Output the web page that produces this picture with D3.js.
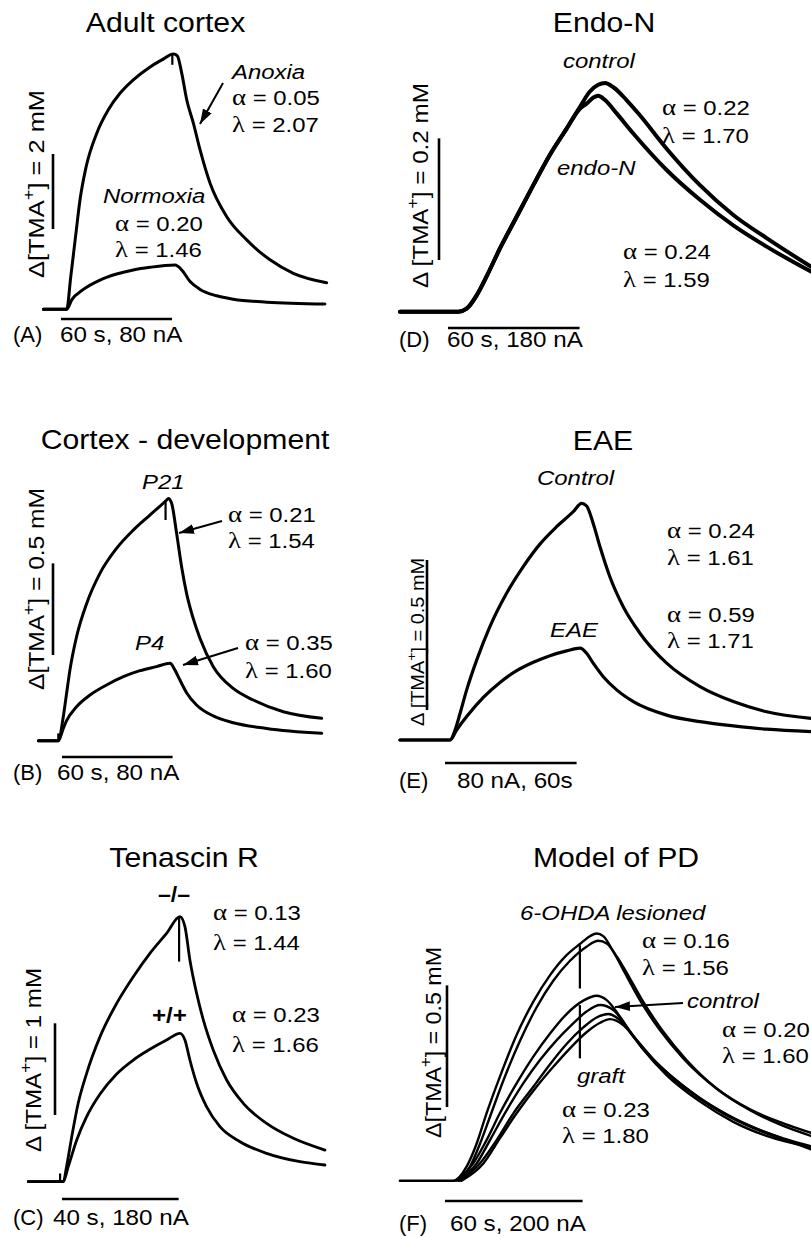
<!DOCTYPE html>
<html><head><meta charset="utf-8">
<script src="https://cdn.jsdelivr.net/npm/d3@7"></script>
<style>
body{margin:0;background:#fff}
svg{display:block}
text{font-family:"Liberation Sans",Arial,sans-serif;fill:#000}
</style></head><body><svg id="c" width="811" height="1237"></svg>
<script>
// ===== DATA: [time (s from release onset), ΔTMA+ (mM)] =====
// Panel A – Adult cortex
const A_anoxia = [[-12.6,0],[0,0],[2.2,0.87],[5.0,2.03],[7.2,2.92],[10.5,3.80],[16.2,4.69],[22.5,5.32],[28.8,5.76],[36.0,6.12],[44.1,6.43],[51.4,6.65],[57.7,6.81],[59.8,6.76],[62.2,6.29],[64.9,5.58],[68.5,4.96],[72.1,4.25],[77.5,3.36],[86.5,2.47],[97.3,1.85],[109.9,1.32],[122.5,0.96],[140.5,0.71]];
const A_normoxia = [[-12.6,0],[0,0],[2.7,0.25],[9.0,0.53],[18.0,0.78],[27.0,0.94],[36.0,1.05],[45.0,1.12],[58.6,1.18],[62.2,1.05],[66.7,0.74],[72.1,0.53],[81.1,0.36],[90.1,0.27],[108.1,0.19],[139.6,0.14]];
const A_artifacts = [[57.1,6.81,6.52]];
// Panel B – Cortex development
const B_P21 = [[-10.8,0],[0,0],[2.7,0.131],[4.5,0.258],[6.3,0.385],[9.9,0.567],[15.4,0.749],[22.6,0.913],[31.6,1.049],[40.7,1.149],[49.7,1.231],[58.8,1.313],[59.7,1.322],[61.5,1.295],[64.2,1.131],[66.9,0.949],[69.6,0.804],[73.2,0.667],[76.9,0.558],[84.1,0.404],[94.9,0.285],[105.8,0.222],[122.1,0.158],[142.9,0.122]];
const B_P4 = [[-10.8,0],[0,0],[2.7,0.067],[4.5,0.109],[9.9,0.185],[17.2,0.249],[26.2,0.304],[35.3,0.349],[44.3,0.382],[53.3,0.404],[60.6,0.422],[63.3,0.385],[66.0,0.331],[69.6,0.262],[75.0,0.195],[84.1,0.135],[94.9,0.098],[113.0,0.067],[142.9,0.040]];
const B_artifacts = [[58.2,1.313,1.204],[0,0.04,-0.005]];
// Panel C – Tenascin R
const C_ko = [[-12,0],[0,0],[1.1,0.164],[2.9,0.491],[5.1,0.855],[8.0,1.182],[12.6,1.582],[18.3,1.945],[24.0,2.236],[29.7,2.491],[35.4,2.709],[40.0,2.891],[41.7,2.782],[43.4,2.418],[45.7,2.055],[48.0,1.764],[51.4,1.436],[56.0,1.109],[61.7,0.855],[69.7,0.636],[78.9,0.473],[89.7,0.345]];
const C_wt = [[-12,0],[0,0],[1.7,0.164],[4.6,0.455],[8.0,0.709],[12.6,0.956],[18.3,1.175],[24.0,1.327],[29.7,1.444],[35.4,1.545],[40.0,1.618],[41.7,1.545],[43.4,1.327],[45.7,1.073],[49.1,0.818],[53.7,0.600],[60.6,0.436],[69.7,0.309],[81.1,0.218],[89.7,0.182]];
const C_artifacts = [[39.7,2.891,2.40],[-1.1,0.09,0]];
// Panel D – Endo-N
const D_control = [[-26.6,0],[0,0],[3.8,0.005],[8.4,0.027],[12.9,0.058],[19.0,0.104],[26.6,0.156],[34.2,0.208],[41.8,0.258],[49.4,0.301],[55.5,0.337],[60.0,0.362],[63.8,0.373],[66.9,0.376],[70.7,0.369],[76.7,0.348],[82.8,0.323],[95.0,0.268],[110.2,0.208],[125.4,0.159],[140.6,0.121],[160.8,0.074]];
const D_endoN = [[-26.6,0],[0,0],[3.8,0.005],[8.4,0.027],[12.9,0.058],[19.0,0.104],[26.6,0.156],[34.2,0.208],[41.8,0.258],[49.4,0.301],[55.5,0.334],[58.5,0.342],[61.6,0.352],[63.8,0.355],[66.9,0.348],[72.2,0.326],[79.8,0.293],[95.0,0.233],[110.2,0.184],[125.4,0.142],[140.6,0.107],[160.8,0.066]];
// Panel E – EAE
const E_control = [[-22.8,0],[0,0],[2.3,0.033],[4.6,0.089],[7.6,0.167],[12.2,0.267],[18.2,0.378],[25.8,0.489],[33.4,0.578],[41.0,0.653],[48.6,0.711],[56.2,0.761],[60.0,0.789],[62.3,0.780],[65.3,0.722],[68.4,0.644],[72.9,0.544],[79.0,0.444],[86.6,0.356],[98.8,0.256],[114.0,0.178],[129.2,0.128],[144.4,0.094],[164.6,0.072]];
const E_eae = [[-22.8,0],[0,0],[3.0,0.033],[7.6,0.078],[15.2,0.142],[22.8,0.192],[30.4,0.231],[38.0,0.259],[45.6,0.281],[53.2,0.297],[59.3,0.306],[62.3,0.289],[65.3,0.256],[69.9,0.211],[76.0,0.167],[83.6,0.128],[98.8,0.083],[114.0,0.061],[129.2,0.047],[144.4,0.036],[164.6,0.028]];
// Panel F – Model of PD
const F_lesion1 = [[-23.3,0],[0,0],[5.8,0.058],[10.2,0.153],[14.5,0.277],[20.3,0.427],[27.6,0.599],[34.9,0.736],[42.2,0.845],[49.4,0.927],[55.2,0.973],[59.6,1.005],[62.5,1.016],[65.4,1.005],[69.8,0.941],[75.6,0.841],[81.4,0.742],[90.1,0.619],[100.3,0.503],[114.8,0.379],[129.4,0.293],[143.9,0.236],[156.0,0.197]];
const F_lesion2 = [[0.7,0],[7.3,0.058],[11.6,0.151],[16.0,0.263],[21.8,0.411],[29.1,0.575],[36.3,0.712],[43.6,0.822],[50.9,0.904],[58.1,0.962],[63.2,0.986],[66.9,0.975],[71.2,0.923],[77.0,0.832],[82.8,0.736],[91.6,0.612],[101.7,0.496],[114.8,0.379],[129.4,0.290],[143.9,0.225],[156.0,0.184]];
const F_control1 = [[1.5,0],[8.7,0.071],[14.5,0.167],[20.3,0.277],[27.6,0.400],[34.9,0.510],[42.2,0.605],[49.4,0.685],[56.7,0.740],[62.5,0.760],[66.9,0.742],[72.7,0.674],[78.5,0.592],[87.2,0.493],[100.3,0.386],[114.8,0.293],[129.4,0.225],[143.9,0.174],[156.0,0.142]];
const F_control2 = [[2.2,0],[10.2,0.071],[16.0,0.167],[23.3,0.290],[30.5,0.400],[37.8,0.496],[45.1,0.578],[52.3,0.647],[58.1,0.695],[64.0,0.722],[69.8,0.701],[75.6,0.633],[82.8,0.540],[93.0,0.434],[107.6,0.325],[122.1,0.242],[136.6,0.184],[156.0,0.137]];
const F_graft1 = [[2.9,0],[11.6,0.071],[18.9,0.167],[26.2,0.277],[34.9,0.386],[42.2,0.479],[49.4,0.562],[56.7,0.630],[62.5,0.671],[67.6,0.685],[72.7,0.660],[78.5,0.595],[87.2,0.499],[100.3,0.389],[114.8,0.293],[129.4,0.222],[143.9,0.170],[156.0,0.133]];
const F_graft2 = [[3.6,0],[13.1,0.071],[20.3,0.174],[27.6,0.277],[36.3,0.386],[43.6,0.468],[50.9,0.544],[58.1,0.610],[64.0,0.649],[68.3,0.664],[74.1,0.640],[79.9,0.578],[88.6,0.485],[101.7,0.379],[116.3,0.288],[130.8,0.219],[145.3,0.167],[156.0,0.129]];
const F_artifacts = [[55.2,0.968,0.790],[55.2,0.722,0.503]];

// Text
const titles = ["Adult cortex","Cortex - development","Tenascin R","Endo-N","EAE","Model of PD"];
const panelTags = ["(A)","(B)","(C)","(D)","(E)","(F)"];
const barLabels = ["60 s, 80 nA","60 s, 80 nA","40 s, 180 nA","60 s, 180 nA","80 nA, 60s","60 s, 200 nA"];
const yLabels = ["Δ[TMA^+] = 2 mM","Δ[TMA^+] = 0.5 mM","Δ [TMA^+] = 1 mM","Δ [TMA^+] = 0.2 mM","Δ [TMA^+] = 0.5 mM","Δ[TMA^+] = 0.5 mM"];
const barTime = [60,60,40,60,60,60];
const barConc = [2,0.5,1,0.2,0.5,0.5];

// ===== LAYOUT =====
const svg = d3.select('#c');
const defs = svg.append('defs');
defs.append('marker').attr('id','ah').attr('viewBox','0 0 10 10').attr('refX',10).attr('refY',5)
  .attr('markerWidth',15).attr('markerHeight',10).attr('markerUnits','userSpaceOnUse')
  .attr('orient','auto').attr('preserveAspectRatio','none')
  .append('path').attr('d','M0,0L10,5L0,10z').attr('fill','#000');

const ST = {
  title:{size:28.5, sx:1.06},
  anno:{size:21, sx:1.14},
  tag:{size:22, sx:1.0},
  bottom:{size:22, sx:1.1},
  ylab:{size:22, sx:1},
  ylabE:{size:18, sx:1}
};

function label(x, y, str, st, o={}){
  const t = svg.append('text')
    .attr('transform', `translate(${x},${y})` + (o.rot?' rotate(-90)':'') + ` scale(${st.sx},1)`)
    .attr('font-size', st.size)
    .attr('text-anchor', o.anchor||'start');
  if(o.italic) t.attr('font-style','italic');
  if(o.bold) t.attr('font-weight','bold');
  if(o.len) t.attr('textLength', o.len).attr('lengthAdjust','spacingAndGlyphs');
  const re = /([αλ])|(\^\+)|([^αλ^]+)/g;
  let m, shift=0;
  while((m = re.exec(str))){
    if(m[1]){
      t.append('tspan').attr('font-family','"Liberation Serif",serif').attr('font-size',st.size*1.12).attr('dy',shift).text(m[1]); shift=0;
    } else if(m[2]){
      const s = st.size*0.45;
      t.append('tspan').attr('font-size',st.size*0.72).attr('dy',-s).text('+'); shift=s;
    } else {
      t.append('tspan').attr('dy',shift).text(m[3]); shift=0;
    }
  }
  return t;
}

const panels = [
  {x0:66.7, y0:309.3, ps:1.85, pc:37.5, sw:3.0, series:[A_anoxia,A_normoxia], art:A_artifacts,
   title:[165.5,32], tag:[13,342], bl:[60,342], yl:[44,184,188], hb:[61,319], vb:[53,229]},
  {x0:58.3, y0:740.7, ps:1.843, pc:183.3, sw:3.0, series:[B_P21,B_P4], art:B_artifacts,
   title:[185,449], tag:[13,780], bl:[57,780], yl:[44,589,202], hb:[62,757], vb:[53,655]},
  {x0:63.3, y0:1181.7, ps:2.917, pc:91.7, sw:2.8, series:[C_ko,C_wt], art:C_artifacts,
   title:[184,867], tag:[13,1225], bl:[53,1225], yl:[41,1060,184], hb:[62,1199], vb:[55,1115]},
  {x0:458.3, y0:311.7, ps:2.193, pc:608.3, sw:4.0, series:[D_control,D_endoN], art:[],
   title:[604,32], tag:[399,347], bl:[447,347], yl:[428,185.5,205], hb:[448,328], vb:[439,260]},
  {x0:450, y0:740, ps:2.193, pc:300, sw:3.2, series:[E_control,E_eae], art:[],
   title:[603,450], tag:[399,788], bl:[457,788], yl:[424,642,168], hb:[445,763], vb:[427,710], small:true},
  {x0:453.3, y0:1180.7, ps:2.293, pc:243.3, sw:2.4, series:[F_lesion1,F_lesion2,F_control1,F_control2,F_graft1,F_graft2], art:F_artifacts,
   title:[616,867], tag:[399,1231], bl:[450,1231], yl:[441,1042.5,191], hb:[445,1201], vb:[447,1107]}
];

panels.forEach((p,i)=>{
  const x = d3.scaleLinear().domain([0,60]).range([p.x0, p.x0+60*p.ps]);
  const y = d3.scaleLinear().domain([0,1]).range([p.y0, p.y0-p.pc]);
  const line = d3.line().x(d=>x(d[0])).y(d=>y(d[1])).curve(d3.curveMonotoneX);
  const g = svg.append('g');
  p.series.forEach(s=>{
    g.append('path').attr('d',line(s)).attr('fill','none').attr('stroke','#000')
      .attr('stroke-width',p.sw).attr('stroke-linejoin','round').attr('stroke-linecap','round');
  });
  p.art.forEach(a=>{
    g.append('line').attr('x1',x(a[0])).attr('x2',x(a[0])).attr('y1',y(a[1])).attr('y2',y(a[2]))
      .attr('stroke','#000').attr('stroke-width',2.2);
  });
  // scale bars
  const hl = x(barTime[i]) - x(0);
  svg.append('line').attr('x1',p.hb[0]).attr('x2',p.hb[0]+hl).attr('y1',p.hb[1]).attr('y2',p.hb[1])
    .attr('stroke','#000').attr('stroke-width',2.6);
  const vl = y(0) - y(barConc[i]);
  svg.append('line').attr('x1',p.vb[0]).attr('x2',p.vb[0]).attr('y1',p.vb[1]).attr('y2',p.vb[1]-vl)
    .attr('stroke','#000').attr('stroke-width',2.6);
  // texts
  label(p.title[0], p.title[1], titles[i], ST.title, {anchor:'middle'});
  label(p.tag[0], p.tag[1], panelTags[i], ST.tag);
  label(p.bl[0], p.bl[1], barLabels[i], ST.bottom);
  label(p.yl[0], p.yl[1], yLabels[i], p.small?ST.ylabE:ST.ylab, {rot:true, anchor:'middle', len:p.yl[2]});
});

// annotations
const A = ST.anno;
// A
label(232,79,"Anoxia",A,{italic:true});
label(232,105,"α = 0.05",A);
label(232,132,"λ = 2.07",A);
label(103,203,"Normoxia",A,{italic:true});
label(115,231,"α = 0.20",A);
label(115,257,"λ = 1.46",A);
// B
label(142,489,"P21",A,{italic:true});
label(228,522,"α = 0.21",A);
label(228,548,"λ = 1.54",A);
label(135,650,"P4",A,{italic:true});
label(245,650,"α = 0.35",A);
label(245,678,"λ = 1.60",A);
// C
label(158,902,"–/–",{size:22,sx:1.05},{bold:true});
label(213,920,"α = 0.13",A);
label(213,950,"λ = 1.44",A);
label(152,1023,"+/+",{size:22,sx:1.1},{bold:true});
label(232,1022,"α = 0.23",A);
label(232,1052,"λ = 1.66",A);
// D
label(563,68,"control",A,{italic:true});
label(662,115,"α = 0.22",A);
label(662,143,"λ = 1.70",A);
label(557,175,"endo-N",A,{italic:true});
label(623,259,"α  = 0.24",A);
label(623,287,"λ  = 1.59",A);
// E
label(537,485,"Control",A,{italic:true});
label(667,538,"α = 0.24",A);
label(667,565,"λ = 1.61",A);
label(550,637,"EAE",A,{italic:true});
label(667,622,"α = 0.59",A);
label(667,648,"λ = 1.71",A);
// F
label(520,920,"6-OHDA lesioned",A,{italic:true});
label(642,948,"α = 0.16",A);
label(642,975,"λ = 1.56",A);
label(687,1008,"control",A,{italic:true});
label(722,1037,"α = 0.20",A);
label(722,1063,"λ = 1.60",A);
label(577,1083,"graft",A,{italic:true});
label(562,1117,"α = 0.23",A);
label(562,1143,"λ = 1.80",A);

// arrows
const arrows = [[223,83,200,124],[222,521,179,533],[238,648,183,665],[683,1003,615,1007]];
arrows.forEach(a=>svg.append('line').attr('x1',a[0]).attr('y1',a[1]).attr('x2',a[2]).attr('y2',a[3])
  .attr('stroke','#000').attr('stroke-width',2).attr('marker-end','url(#ah)'));
</script></body></html>
